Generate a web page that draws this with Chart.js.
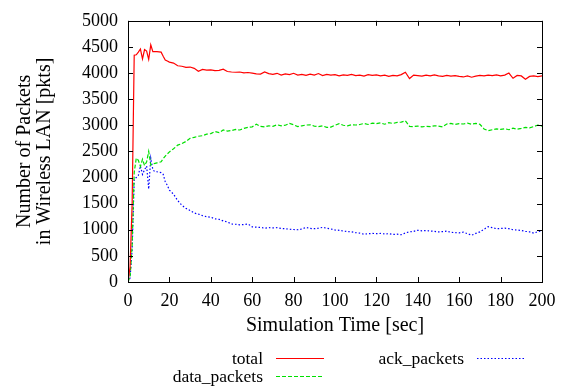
<!DOCTYPE html>
<html>
<head>
<meta charset="utf-8">
<script src="https://cdn.jsdelivr.net/npm/chart.js@4"></script>
<style>
  html, body { margin: 0; padding: 0; background: #fff; }
  #wrap { width: 570px; height: 390px; }
</style>
</head>
<body>
<div id="wrap"><canvas id="myChart" width="570" height="390"></canvas></div>
<script>
// simulation time [sec]
const simTime = [
  0, 1, 2, 3, 4, 5, 6, 7, 8, 9, 10, 11, 12, 13, 14, 15, 16, 17, 18, 19, 20,
  22, 24, 26, 28, 30, 32, 34, 36, 38, 40, 42, 44, 46, 48, 50, 52, 54, 56, 58, 60,
  62, 64, 66, 68, 70, 72, 74, 76, 78, 80, 82, 84, 86, 88, 90, 92, 94, 96, 98, 100,
  102, 104, 106, 108, 110, 112, 114, 116, 118, 120, 122, 124, 126, 128, 130, 132, 134, 136, 138, 140,
  142, 144, 146, 148, 150, 152, 154, 156, 158, 160, 162, 164, 166, 168, 170, 172, 174, 176, 178, 180,
  182, 184, 186, 188, 190, 192, 194, 196, 198, 200
];

const totalPkts = [
  0, 290, 1500, 4340, 4350, 4400, 4460, 4270, 4450, 4420, 4260, 4540, 4410, 4410, 4410, 4405, 4400, 4320, 4250, 4230, 4210,
  4190, 4140, 4130, 4110, 4115, 4090, 4035, 4070, 4055, 4060, 4045, 4050, 4075, 4030, 4020, 4015, 4020, 4005, 4010, 4000,
  3985, 3980, 4020, 3990, 3975, 3995, 3960, 3985, 3970, 3995, 3960, 3975, 3955, 3980, 3960, 3990, 3950, 3975, 3960, 3970,
  3945, 3965, 3955, 3975, 3950, 3960, 3940, 3970, 3955, 3965, 3945, 3960, 3935, 3955, 3945, 3970, 4015, 3895, 3960, 3950,
  3940, 3960, 3945, 3965, 3945, 3935, 3955, 3940, 3950, 3935, 3925, 3945, 3920, 3940, 3955, 3945, 3960, 3950, 3965, 3945,
  3960, 4000, 3900, 3955, 3945, 3880, 3935, 3945, 3930, 3945
];

const dataPkts = [
  0, 100, 700, 2100, 2370, 2330, 2210, 2350, 2230, 2300, 2500, 2240, 2260, 2270, 2280, 2290, 2300, 2360, 2410, 2450, 2490,
  2550, 2620, 2650, 2690, 2750, 2770, 2790, 2800, 2830, 2840, 2880, 2860, 2910, 2890, 2900, 2920, 2910, 2940, 2960, 2970,
  3020, 2980, 2970, 2990, 2980, 3010, 2990, 3000, 3035, 3010, 2975, 2990, 3005, 3010, 2985, 2975, 2990, 2960, 2965, 3000,
  3030, 3000, 2990, 3010, 3005, 3015, 3035, 3015, 3040, 3030, 3045, 3020, 3050, 3035, 3055, 3060, 3085, 2980, 2975, 2985,
  2970, 2980, 2975, 2990, 2985, 2970, 3025, 3035, 3015, 3030, 3025, 3040, 3020, 3035, 3020, 2930, 2895, 2915, 2930, 2920,
  2935, 2915, 2945, 2925, 2940, 2960, 2950, 2975, 3005, 2985
];

const ackPkts = [
  0, 80, 620, 1960, 2000, 2040, 2220, 2060, 2150, 2220, 1780, 2370, 2150, 2110, 2110, 2100, 2095, 2060, 1920, 1850, 1760,
  1680, 1560, 1470, 1410, 1370, 1320, 1300, 1270, 1250, 1240, 1210, 1200, 1170, 1150, 1110, 1105, 1095, 1100, 1110, 1055,
  1050, 1045, 1030, 1040, 1035, 1040, 1025, 1020, 1010, 1005, 1000, 1015, 1045, 1025, 1020, 1030, 1045, 1030, 1015, 995,
  990, 975, 965, 960, 945, 935, 915, 925, 930, 925, 930, 920, 925, 910, 915, 905, 940, 960, 970, 990,
  980, 985, 975, 970, 960, 965, 975, 950, 945, 940, 955, 925, 895, 930, 960, 1010, 1060, 1040, 1020, 1025,
  1030, 1020, 1000, 995, 985, 970, 960, 935, 965, 980
];

const seriesNames = ['total', 'data_packets', 'ack_packets'];
const xTicks = [0, 20, 40, 60, 80, 100, 120, 140, 160, 180, 200];
const yTicks = [0, 500, 1000, 1500, 2000, 2500, 3000, 3500, 4000, 4500, 5000];

const serif = "'Liberation Serif', 'DejaVu Serif', serif";

function pts(vals) {
  return simTime.map((t, i) => ({ x: t, y: vals[i] }));
}

// gnuplot-like frame: box round the plot area with inward ticks on all sides
const framePlugin = {
  id: 'frame',
  afterDatasetsDraw(chart) {
    const { ctx, chartArea: a, scales: { x, y } } = chart;
    const len = 5;
    ctx.save();
    ctx.strokeStyle = '#000';
    ctx.lineWidth = 1;
    ctx.beginPath();
    xTicks.forEach(v => {
      const px = Math.round(x.getPixelForValue(v)) + 0.5;
      ctx.moveTo(px, a.bottom); ctx.lineTo(px, a.bottom - len);
      ctx.moveTo(px, a.top); ctx.lineTo(px, a.top + len);
    });
    yTicks.forEach(v => {
      const py = Math.round(y.getPixelForValue(v)) + 0.5;
      ctx.moveTo(a.left, py); ctx.lineTo(a.left + len, py);
      ctx.moveTo(a.right, py); ctx.lineTo(a.right - len, py);
    });
    ctx.stroke();
    ctx.strokeRect(Math.round(a.left) + 0.5, Math.round(a.top) + 0.5,
      Math.round(a.right - a.left), Math.round(a.bottom - a.top));
    ctx.restore();
  }
};

// key below the plot: label right-aligned, then a line sample
const keyPlugin = {
  id: 'key',
  afterDraw(chart) {
    const { ctx } = chart;
    const slots = [
      { tx: 263, y: 359 },
      { tx: 263, y: 377 },
      { tx: 464, y: 359 }
    ];
    ctx.save();
    ctx.font = '17.5px ' + serif;
    ctx.textAlign = 'right';
    ctx.textBaseline = 'middle';
    chart.data.datasets.forEach((ds, i) => {
      const s = slots[i];
      ctx.fillStyle = '#000';
      ctx.fillText(ds.label, s.tx, s.y);
      ctx.strokeStyle = ds.borderColor;
      ctx.lineWidth = ds.borderWidth;
      ctx.setLineDash(ds.borderDash || []);
      ctx.beginPath();
      ctx.moveTo(s.tx + 13, s.y - 0.5);
      ctx.lineTo(s.tx + 61, s.y - 0.5);
      ctx.stroke();
    });
    ctx.restore();
  }
};

new Chart(document.getElementById('myChart'), {
  type: 'line',
  data: {
    datasets: [{
      label: seriesNames[0],
      data: pts(totalPkts),
      borderColor: '#ff0000',
      borderWidth: 1.2,
      borderDash: []
    }, {
      label: seriesNames[1],
      data: pts(dataPkts),
      borderColor: '#00e000',
      borderWidth: 1.2,
      borderDash: [4, 2]
    }, {
      label: seriesNames[2],
      data: pts(ackPkts),
      borderColor: '#0000ff',
      borderWidth: 1.2,
      borderDash: [1.5, 2]
    }]
  },
  options: {
    responsive: false,
    animation: false,
    devicePixelRatio: 1,
    layout: { padding: { left: 0, top: 15, right: 28, bottom: 52 } },
    elements: { point: { radius: 0 }, line: { tension: 0 } },
    plugins: { legend: { display: false }, tooltip: { enabled: false } },
    scales: {
      x: {
        type: 'linear',
        min: 0,
        max: 200,
        afterFit(scale) { scale.height = 56; },
        afterBuildTicks(scale) { scale.ticks = xTicks.map(v => ({ value: v })); },
        grid: { display: false, drawTicks: false },
        border: { display: false },
        ticks: {
          color: '#000', padding: 8, maxRotation: 0,
          font: { family: serif, size: 18 },
          callback: v => String(v)
        },
        title: {
          display: true,
          text: 'Simulation Time [sec]',
          color: '#000',
          padding: { top: 0, bottom: 2 },
          font: { family: serif, size: 20, lineHeight: 1 }
        }
      },
      y: {
        min: 0,
        max: 5000,
        afterFit(scale) { scale.width = 128; },
        afterBuildTicks(scale) { scale.ticks = yTicks.map(v => ({ value: v })); },
        grid: { display: false, drawTicks: false },
        border: { display: false },
        ticks: {
          color: '#000', padding: 10,
          font: { family: serif, size: 18 },
          callback: v => String(v)
        },
        title: {
          display: true,
          text: ['Number of Packets', 'in Wireless LAN [pkts]'],
          color: '#000',
          padding: { top: 15, bottom: 0 },
          font: { family: serif, size: 20, lineHeight: 1 }
        }
      }
    }
  },
  plugins: [framePlugin, keyPlugin]
});
</script>
</body>
</html>
